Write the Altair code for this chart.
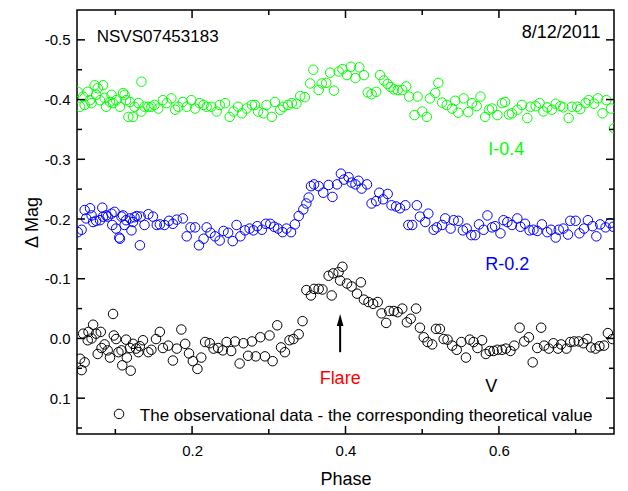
import altair as alt
import pandas as pd

# ---------------- data ----------------
# I band: observed - theoretical, plotted with offset -0.4
PHASE_I = [0.051, 0.054, 0.058, 0.060, 0.064, 0.067, 0.069, 0.073, 0.075, 0.077,
           0.080, 0.084, 0.086, 0.088, 0.093, 0.095, 0.097, 0.101, 0.106, 0.110,
           0.112, 0.114, 0.117, 0.119, 0.123, 0.125, 0.130, 0.134, 0.134, 0.138,
           0.143, 0.147, 0.151, 0.156, 0.162, 0.167, 0.173, 0.178, 0.182, 0.188,
           0.193, 0.199, 0.204, 0.210, 0.215, 0.219, 0.225, 0.232, 0.236, 0.243,
           0.249, 0.254, 0.260, 0.265, 0.271, 0.278, 0.282, 0.286, 0.293, 0.297,
           0.304, 0.308, 0.315, 0.319, 0.325, 0.330, 0.336, 0.341, 0.347, 0.354,
           0.358, 0.365, 0.369, 0.375, 0.380, 0.385, 0.391, 0.396, 0.402, 0.407,
           0.413, 0.418, 0.424, 0.429, 0.434, 0.440, 0.445, 0.450, 0.455, 0.459,
           0.463, 0.468, 0.474, 0.479, 0.483, 0.490, 0.494, 0.500, 0.506, 0.510,
           0.517, 0.521, 0.526, 0.532, 0.539, 0.543, 0.547, 0.554, 0.560, 0.565,
           0.571, 0.576, 0.582, 0.587, 0.591, 0.598, 0.604, 0.608, 0.613, 0.617,
           0.624, 0.630, 0.637, 0.641, 0.648, 0.653, 0.658, 0.663, 0.669, 0.674,
           0.680, 0.684, 0.691, 0.695, 0.702, 0.706, 0.713, 0.717, 0.724, 0.729,
           0.735, 0.740, 0.746, 0.750]
OC_I = [-0.013, 0.012, -0.005, 0.009, -0.013, 0.001, 0.006, -0.024, -0.008, -0.019,
        0.001, -0.024, -0.003, 0.012, 0.004, -0.008, 0.006, 0.001, 0.012, -0.011,
        -0.008, 0.001, 0.029, 0.004, 0.029, 0.012, 0.006, -0.030, 0.020, 0.012,
        0.012, 0.012, 0.009, 0.015, 0.001, 0.006, -0.002, 0.017, 0.012, 0.004,
        0.012, 0.001, 0.015, 0.006, 0.009, 0.012, 0.012, 0.020, 0.009, 0.006,
        0.029, 0.020, 0.012, 0.023, 0.015, 0.009, 0.009, 0.020, 0.023, 0.009,
        0.029, 0.004, 0.017, 0.012, 0.009, 0.006, 0.007, -0.006, -0.004, -0.027,
        -0.050, -0.016, -0.027, -0.028, -0.045, -0.015, -0.047, -0.051, -0.041, -0.055,
        -0.036, -0.054, -0.041, -0.012, -0.009, -0.013, -0.041, -0.032, -0.026, -0.021,
        -0.017, -0.016, -0.016, -0.022, -0.005, 0.026, -0.005, 0.020, 0.029, -0.002,
        -0.011, -0.028, 0.005, 0.009, 0.015, 0.002, 0.022, -0.002, 0.021, 0.006,
        0.011, -0.005, 0.029, 0.017, 0.015, 0.026, 0.006, 0.004, 0.025, 0.023,
        0.017, 0.009, 0.031, 0.012, 0.011, 0.006, 0.020, 0.013, 0.017, 0.007,
        0.011, 0.013, 0.031, 0.012, 0.012, 0.016, 0.006, 0.001, 0.007, -0.002,
        0.023, 0.001, 0.015, 0.048]

# R band: observed - theoretical, plotted with offset -0.2
PHASE_R = [0.051, 0.056, 0.060, 0.062, 0.067, 0.069, 0.071, 0.075, 0.080, 0.083,
           0.084, 0.088, 0.090, 0.095, 0.096, 0.099, 0.101, 0.105, 0.106, 0.108,
           0.110, 0.112, 0.114, 0.119, 0.121, 0.123, 0.125, 0.128, 0.132, 0.133,
           0.138, 0.143, 0.149, 0.154, 0.158, 0.164, 0.170, 0.175, 0.180, 0.188,
           0.193, 0.198, 0.204, 0.209, 0.215, 0.219, 0.224, 0.230, 0.236, 0.241,
           0.247, 0.253, 0.258, 0.263, 0.269, 0.275, 0.280, 0.285, 0.291, 0.296,
           0.302, 0.307, 0.312, 0.318, 0.323, 0.329, 0.334, 0.339, 0.345, 0.349,
           0.352, 0.355, 0.359, 0.365, 0.371, 0.378, 0.383, 0.389, 0.394, 0.398,
           0.404, 0.408, 0.413, 0.417, 0.421, 0.428, 0.434, 0.440, 0.444, 0.449,
           0.455, 0.460, 0.466, 0.471, 0.478, 0.482, 0.487, 0.493, 0.497, 0.504,
           0.508, 0.515, 0.519, 0.526, 0.530, 0.537, 0.541, 0.547, 0.553, 0.558,
           0.564, 0.569, 0.574, 0.580, 0.585, 0.591, 0.595, 0.602, 0.606, 0.611,
           0.617, 0.624, 0.628, 0.634, 0.640, 0.645, 0.650, 0.656, 0.663, 0.668,
           0.674, 0.678, 0.684, 0.690, 0.693, 0.700, 0.705, 0.711, 0.716, 0.722,
           0.727, 0.732, 0.739, 0.745, 0.749]
OC_R = [0.022, 0.018, -0.015, -0.001, -0.018, -0.006, 0.005, 0.003, 0.002, -0.019,
        -0.004, -0.006, -0.004, -0.009, 0.010, -0.012, 0.016, 0.031, 0.033, -0.004,
        -0.006, 0.010, 0.002, -0.001, 0.019, 0.005, -0.003, -0.005, 0.044, -0.004,
        0.010, -0.008, -0.004, 0.010, 0.009, 0.010, 0.003, 0.008, 0.001, -0.001,
        0.029, 0.014, 0.014, 0.044, 0.033, 0.014, 0.023, 0.029, 0.036, 0.020,
        0.023, 0.037, 0.010, 0.029, 0.019, 0.016, 0.019, 0.012, 0.018, 0.008,
        0.008, 0.013, 0.016, 0.022, 0.016, 0.022, 0.009, -0.005, -0.016, -0.026,
        -0.036, -0.055, -0.058, -0.055, -0.044, -0.057, -0.037, -0.058, -0.076, -0.066,
        -0.070, -0.061, -0.058, -0.064, -0.051, -0.058, -0.026, -0.030, -0.044, -0.033,
        -0.042, -0.023, -0.021, -0.018, -0.023, 0.010, 0.010, -0.023, -0.004, 0.005,
        -0.009, 0.018, 0.014, 0.010, -0.001, 0.016, 0.002, 0.003, 0.019, 0.016,
        0.027, 0.027, 0.009, 0.018, -0.006, 0.014, 0.012, 0.024, 0.002, 0.005,
        0.010, -0.001, 0.013, 0.008, 0.019, 0.018, 0.020, 0.009, 0.022, 0.018,
        0.031, 0.018, 0.016, 0.026, 0.003, 0.003, 0.024, 0.016, 0.002, 0.012,
        0.029, 0.009, 0.014, 0.007, 0.013]

# V band: observed - theoretical, no offset
PHASE_V = [0.054, 0.056, 0.058, 0.060, 0.064, 0.065, 0.069, 0.071, 0.075, 0.077,
           0.081, 0.082, 0.086, 0.090, 0.093, 0.097, 0.098, 0.101, 0.104, 0.108,
           0.109, 0.114, 0.115, 0.119, 0.120, 0.123, 0.127, 0.130, 0.132, 0.136,
           0.143, 0.147, 0.153, 0.158, 0.162, 0.169, 0.175, 0.180, 0.186, 0.191,
           0.196, 0.201, 0.207, 0.212, 0.217, 0.223, 0.228, 0.234, 0.240, 0.245,
           0.251, 0.256, 0.262, 0.267, 0.273, 0.278, 0.283, 0.289, 0.295, 0.301,
           0.305, 0.311, 0.316, 0.321, 0.327, 0.332, 0.339, 0.344, 0.349, 0.355,
           0.359, 0.365, 0.370, 0.378, 0.382, 0.384, 0.391, 0.393, 0.396, 0.402,
           0.408, 0.415, 0.420, 0.424, 0.430, 0.436, 0.442, 0.447, 0.453, 0.457,
           0.463, 0.468, 0.474, 0.480, 0.485, 0.492, 0.497, 0.502, 0.507, 0.513,
           0.518, 0.523, 0.528, 0.533, 0.539, 0.545, 0.551, 0.557, 0.562, 0.567,
           0.572, 0.578, 0.583, 0.588, 0.593, 0.598, 0.604, 0.609, 0.615, 0.620,
           0.627, 0.633, 0.639, 0.644, 0.650, 0.655, 0.659, 0.665, 0.671, 0.677,
           0.681, 0.688, 0.693, 0.698, 0.704, 0.710, 0.715, 0.720, 0.726, 0.731,
           0.737, 0.742, 0.748]
OC_V = [0.034, 0.053, -0.008, 0.040, 0.003, -0.011, 0.000, -0.023, -0.008, 0.026,
        -0.011, 0.016, 0.010, 0.020, 0.032, -0.041, -0.005, 0.001, 0.023, 0.020,
        0.045, 0.002, 0.032, 0.016, 0.054, 0.009, 0.017, 0.023, 0.013, 0.003,
        0.023, 0.019, 0.001, -0.011, 0.016, 0.012, 0.037, 0.017, -0.015, 0.009,
        0.025, 0.038, 0.051, 0.032, 0.006, 0.008, 0.017, 0.016, 0.020, 0.006,
        0.021, 0.005, 0.042, 0.008, 0.029, 0.005, 0.030, -0.002, 0.030, -0.005,
        0.038, -0.022, 0.015, 0.023, 0.003, 0.001, -0.007, -0.029, -0.081, -0.072,
        -0.083, -0.083, -0.082, -0.105, -0.072, -0.109, -0.111, -0.097, -0.120, -0.092,
        -0.087, -0.075, -0.094, -0.065, -0.061, -0.058, -0.061, -0.042, -0.026, -0.046,
        -0.046, -0.044, -0.050, -0.027, -0.033, -0.050, -0.018, -0.002, 0.006, 0.010,
        -0.016, -0.016, 0.001, 0.002, 0.012, 0.019, 0.006, 0.032, 0.002, 0.006,
        0.016, 0.003, 0.026, 0.021, 0.021, 0.019, 0.019, 0.017, 0.021, 0.012,
        -0.018, 0.005, -0.002, 0.040, 0.016, -0.018, 0.012, 0.017, 0.008, 0.017,
        0.010, 0.017, 0.006, 0.005, 0.005, 0.008, 0.001, 0.015, 0.017, 0.013,
        0.012, -0.009, 0.001]

BANDS = ["I", "R", "V"]
OFFSETS = [-0.4, -0.2, 0.0]
COLORS = ["#00ff00", "#0000ff", "#000000"]

X_MAJOR = [0.2, 0.4, 0.6]
X_MINOR = [0.1, 0.3, 0.5, 0.7]
Y_MAJOR = [-0.5, -0.4, -0.3, -0.2, -0.1, 0.0, 0.1]
Y_MINOR = [-0.45, -0.35, -0.25, -0.15, -0.05, 0.05, 0.15]

# annotations (data coordinates)
TXT_LEFT = ["NSVS07453183", "The observational data - the corresponding theoretical value"]
TXT_LEFT_X = [0.0757, 0.1319]
TXT_LEFT_Y = [-0.497, 0.1376]
TXT_LEFT_SIZE = [17, 17]

TXT_RIGHT = ["8/12/2011"]
TXT_RIGHT_X = [0.7324]
TXT_RIGHT_Y = [-0.503]

TXT_CENTER = ["I-0.4", "R-0.2", "V", "Flare"]
TXT_CENTER_X = [0.6097, 0.611, 0.590, 0.393]
TXT_CENTER_Y = [-0.307, -0.114, 0.090, 0.0755]
TXT_CENTER_COLOR = ["#00ff00", "#0000ff", "#000000", "#ff0000"]

ARROW_X = 0.393
ARROW_Y = [-0.031, 0.023]
LEGEND_SYMBOL = (0.1048, 0.1264)

# ---------------- chart ----------------
W, H = 537, 424
FONT = "Liberation Sans"
PT_SIZE = 90

rows = []
for band, off, ph, oc in zip(BANDS, OFFSETS, [PHASE_I, PHASE_R, PHASE_V], [OC_I, OC_R, OC_V]):
    for p, o in zip(ph, oc):
        rows.append({"phase": p, "mag": round(o + off, 4), "band": band})
df = pd.DataFrame(rows)

xs = alt.Scale(domain=[0.05, 0.75], nice=False, zero=False)
ys = alt.Scale(domain=[-0.55, 0.16], reverse=True, nice=False, zero=False)

AX = alt.Axis(
    values=X_MAJOR, format=".1f", ticks=False, domain=False, grid=False,
    title="Phase", labelFont=FONT, labelFontSize=15, labelPadding=9,
    labelColor="black", titleFont=FONT, titleFontSize=18,
    titleFontWeight="normal", titleColor="black", titlePadding=12)
AY = alt.Axis(
    values=Y_MAJOR,
    labelExpr="(datum.value < -0.001 ? '-' : '') + format(abs(datum.value), '.1f')",
    ticks=False, domain=False, grid=False,
    title="Δ Mag", labelFont=FONT, labelFontSize=15, labelPadding=7,
    labelColor="black", titleFont=FONT, titleFontSize=18,
    titleFontWeight="normal", titleColor="black", titlePadding=3)


def X(field):
    return alt.X(field, type="quantitative", scale=xs, axis=AX, title="Phase")


def Y(field):
    return alt.Y(field, type="quantitative", scale=ys, axis=AY, title="Δ Mag")


points = alt.Chart(df).mark_point(
    shape="circle", filled=False, size=PT_SIZE, strokeWidth=1, opacity=1, clip=True
).encode(
    x=X("phase"), y=Y("mag"),
    color=alt.Color("band:N", scale=alt.Scale(domain=BANDS, range=COLORS), legend=None),
)


def xticks(vals, length, top):
    d = pd.DataFrame({"t": vals})
    return alt.Chart(d).mark_rule(color="black", strokeWidth=1.5).encode(
        x=X("t"),
        y=alt.value(0 if top else H),
        y2=alt.value(length if top else H - length),
    )


def yticks(vals, length, right):
    d = pd.DataFrame({"t": vals})
    return alt.Chart(d).mark_rule(color="black", strokeWidth=1.5).encode(
        y=Y("t"),
        x=alt.value(W if right else 0),
        x2=alt.value(W - length if right else length),
    )


ticks = [
    xticks(X_MAJOR, 8, False), xticks(X_MINOR, 5, False),
    xticks(X_MAJOR, 8, True), xticks(X_MINOR, 5, True),
    yticks(Y_MAJOR, 8, False), yticks(Y_MINOR, 5, False),
    yticks(Y_MAJOR, 8, True), yticks(Y_MINOR, 5, True),
]

left_df = pd.DataFrame({"x": TXT_LEFT_X, "y": TXT_LEFT_Y, "t": TXT_LEFT, "s": TXT_LEFT_SIZE})
left_txt = alt.Chart(left_df).mark_text(
    align="left", baseline="alphabetic", font=FONT, color="black"
).encode(
    x=X("x"), y=Y("y"),
    text="t:N", size=alt.Size("s:Q", scale=None, legend=None),
)

right_df = pd.DataFrame({"x": TXT_RIGHT_X, "y": TXT_RIGHT_Y, "t": TXT_RIGHT})
right_txt = alt.Chart(right_df).mark_text(
    align="right", baseline="alphabetic", font=FONT, fontSize=18, color="black"
).encode(x=X("x"), y=Y("y"), text="t:N")

center_df = pd.DataFrame({"x": TXT_CENTER_X, "y": TXT_CENTER_Y, "t": TXT_CENTER, "c": TXT_CENTER_COLOR})
center_txt = alt.Chart(center_df).mark_text(
    align="center", baseline="alphabetic", font=FONT, fontSize=18
).encode(
    x=X("x"), y=Y("y"), text="t:N",
    color=alt.Color("c:N", scale=None, legend=None),
)

arrow_df = pd.DataFrame({"x": [ARROW_X], "y": [ARROW_Y[0]], "y2": [ARROW_Y[1]]})
arrow_shaft = alt.Chart(arrow_df).mark_rule(color="black", strokeWidth=2).encode(
    x=X("x"), y=Y("y"), y2="y2:Q",
)
arrow_head = alt.Chart(arrow_df).mark_point(
    shape="M0,-1L0.55,1L-0.55,1Z", filled=True, color="black", size=144, opacity=1
).encode(x=X("x"), y=Y("y"))

leg_df = pd.DataFrame({"x": [LEGEND_SYMBOL[0]], "y": [LEGEND_SYMBOL[1]]})
leg_sym = alt.Chart(leg_df).mark_point(
    shape="circle", filled=False, size=PT_SIZE, strokeWidth=1, color="black", opacity=1
).encode(x=X("x"), y=Y("y"))

chart = alt.layer(
    points, *ticks, left_txt, right_txt, center_txt, arrow_shaft, arrow_head, leg_sym
).properties(
    width=W, height=H,
    padding={"left": 77, "top": 10, "right": 14, "bottom": 57},
    autosize=alt.AutoSizeParams(type="none"),
    background="white",
).configure(font=FONT).configure_view(stroke="black", strokeWidth=1.5)

chart.save("out.html", embed_options={"renderer": "svg", "actions": False})
